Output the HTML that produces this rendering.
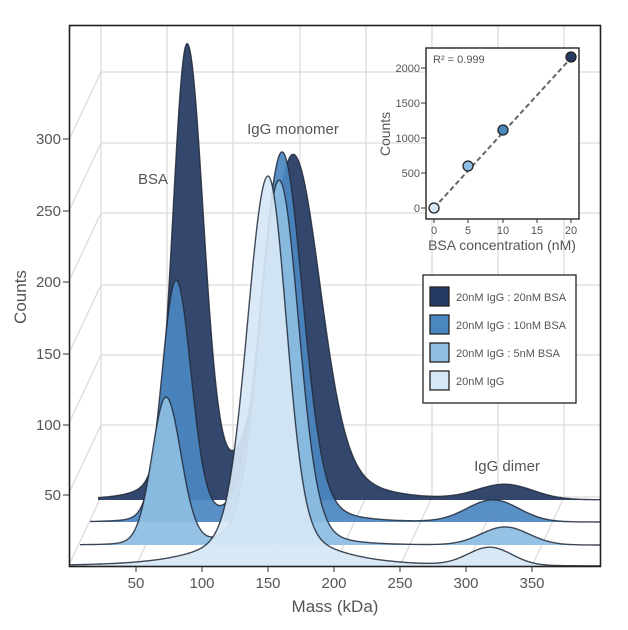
<!DOCTYPE html>
<html><head><meta charset="utf-8"><style>
html,body{margin:0;padding:0;background:#fff}
svg{display:block;font-family:"Liberation Sans",sans-serif}
</style></head><body>
<svg id="s" width="628" height="630" viewBox="0 0 628 630" xmlns="http://www.w3.org/2000/svg">
<g id="grid" stroke="#dcdcdc" stroke-width="1.3" fill="none"></g>
<g id="ser"></g>
<rect x="69.5" y="25.5" width="531" height="541" fill="none" stroke="#222" stroke-width="1.6"/>
<g font-size="15" fill="#555" text-anchor="end" id="yt"></g>
<g font-size="15" fill="#555" text-anchor="middle" id="xt"></g>
<text x="335" y="612" font-size="17" fill="#555" text-anchor="middle">Mass (kDa)</text>
<text transform="translate(26,297) rotate(-90)" font-size="17" fill="#555" text-anchor="middle">Counts</text>
<text x="153" y="184" font-size="15" fill="#555" text-anchor="middle">BSA</text>
<text x="293" y="134" font-size="15" fill="#555" text-anchor="middle">IgG monomer</text>
<text x="507" y="471" font-size="15" fill="#555" text-anchor="middle">IgG dimer</text>
<rect x="426" y="48" width="153" height="171" fill="#fff" stroke="#222" stroke-width="1.4"/>
<text x="433" y="63" font-size="11" fill="#555">R² = 0.999</text>
<line x1="434" y1="208" x2="571" y2="58" stroke="#666" stroke-width="2" stroke-dasharray="5,3"/>
<g stroke="#222" stroke-width="1.3">
<circle cx="434" cy="208" r="5" fill="#d6e7f5"/>
<circle cx="468" cy="166" r="5" fill="#8dbde2"/>
<circle cx="503" cy="130" r="5" fill="#4b87bf"/>
<circle cx="571" cy="57" r="5" fill="#253a63"/>
</g>
<g font-size="11" fill="#555" text-anchor="end">
<text x="420" y="72">2000</text><text x="420" y="107">1500</text><text x="420" y="142">1000</text><text x="420" y="177">500</text><text x="420" y="212">0</text>
</g>
<g stroke="#333"><line x1="421" y1="68" x2="426" y2="68"/><line x1="421" y1="103" x2="426" y2="103"/><line x1="421" y1="138" x2="426" y2="138"/><line x1="421" y1="173" x2="426" y2="173"/><line x1="421" y1="208" x2="426" y2="208"/>
<line x1="434" y1="219" x2="434" y2="223"/><line x1="468" y1="219" x2="468" y2="223"/><line x1="503" y1="219" x2="503" y2="223"/><line x1="537" y1="219" x2="537" y2="223"/><line x1="571" y1="219" x2="571" y2="223"/></g>
<g font-size="11" fill="#555" text-anchor="middle">
<text x="434" y="234">0</text><text x="468" y="234">5</text><text x="503" y="234">10</text><text x="537" y="234">15</text><text x="571" y="234">20</text>
</g>
<text x="502" y="250" font-size="14" fill="#555" text-anchor="middle">BSA concentration (nM)</text>
<text transform="translate(390,134) rotate(-90)" font-size="14" fill="#555" text-anchor="middle">Counts</text>
<rect x="423" y="275" width="153" height="128" fill="#fff" stroke="#222" stroke-width="1.3"/>
<g stroke="#222" stroke-width="1.3">
<rect x="430" y="287" width="19" height="19" fill="#253a63"/>
<rect x="430" y="315" width="19" height="19" fill="#4b87bf"/>
<rect x="430" y="343" width="19" height="19" fill="#8dbde2"/>
<rect x="430" y="371" width="19" height="19" fill="#d6e7f5"/>
</g>
<g font-size="11" fill="#555">
<text x="456" y="301">20nM IgG : 20nM BSA</text>
<text x="456" y="329">20nM IgG : 10nM BSA</text>
<text x="456" y="357">20nM IgG : 5nM BSA</text>
<text x="456" y="385">20nM IgG</text>
</g>
</svg>
<script>
const NS="http://www.w3.org/2000/svg";
function el(p,t,a){const e=document.createElementNS(NS,t);for(const k in a)e.setAttribute(k,a[k]);p.appendChild(e);return e;}
const g=document.getElementById('grid');
const bx=[101,167,233,300,366,432,498,564];
const by=[72,143,213,285,355,425,497];
bx.forEach(x=>el(g,'line',{x1:x,y1:26,x2:x,y2:497}));
by.forEach(y=>{el(g,'line',{x1:101,y1:y,x2:600,y2:y});el(g,'line',{x1:101,y1:y,x2:69,y2:y+68});});
[136,202,268,334,400,466,532].forEach(x=>el(g,'line',{x1:x,y1:566,x2:x+32,y2:497}));
const yt=document.getElementById('yt');
[[300,139],[250,211],[200,282],[150,354],[100,425],[50,495]].forEach(([v,y])=>{
 el(document.getElementById('s'),'line',{x1:63,y1:y,x2:69,y2:y,stroke:'#333'});
 const t=el(yt,'text',{x:61,y:y+5});t.textContent=v;});
const xt=document.getElementById('xt');
[50,100,150,200,250,300,350].forEach(v=>{const x=70+v*1.32;
 el(document.getElementById('s'),'line',{x1:x,y1:566,x2:x,y2:572,stroke:'#333'});
 const t=el(xt,'text',{x:x,y:588});t.textContent=v;});
function gs(x,c,h,sl,sr){const s=x<c?sl:(sr||sl);return h*Math.exp(-0.5*((x-c)/s)**2);}
function lor(x,c,h,w){const u=(x-c)/w;return h/((1+u*u)**2);}
const series=[
 {b:500,x0:98,col:'#253a63',f:x=>gs(x,187,400,14,16)+lor(x,187,50,40)+gs(x,293,285,24,26)+lor(x,295,60,75)+gs(x,505,15,28)},
 {b:522,x0:90,col:'#4b87bf',f:x=>gs(x,176,215,14,15)+lor(x,176,25,30)+gs(x,282,325,20,20)+lor(x,283,45,55)+gs(x,493,22,26)},
 {b:545,x0:80,col:'#8dbde2',f:x=>gs(x,166,127,14,15)+lor(x,166,20,28)+gs(x,279,325,19,19)+lor(x,281,40,50)+gs(x,505,18,24)},
 {b:566,x0:70,col:'#d6e7f5',f:x=>gs(x,268,350,20,18)+lor(x,268,40,90)+gs(x,490,18,22)},
];
const sg=document.getElementById('ser');
series.forEach(s=>{
 let d=`M${s.x0},${s.b}`;
 for(let x=s.x0;x<=600;x+=1){d+=` L${x},${(s.b-Math.min(s.f(x),s.b-30)).toFixed(1)}`;}
 el(sg,'path',{d:d+` L600,${s.b} Z`,fill:s.col,'fill-opacity':0.93,stroke:'none'});
 el(sg,'path',{d:d.replace(/^M[^L]*L/,'M'),fill:'none',stroke:'#222a3a','stroke-width':1.4,'stroke-opacity':0.85});
});
</script>
</body></html>
